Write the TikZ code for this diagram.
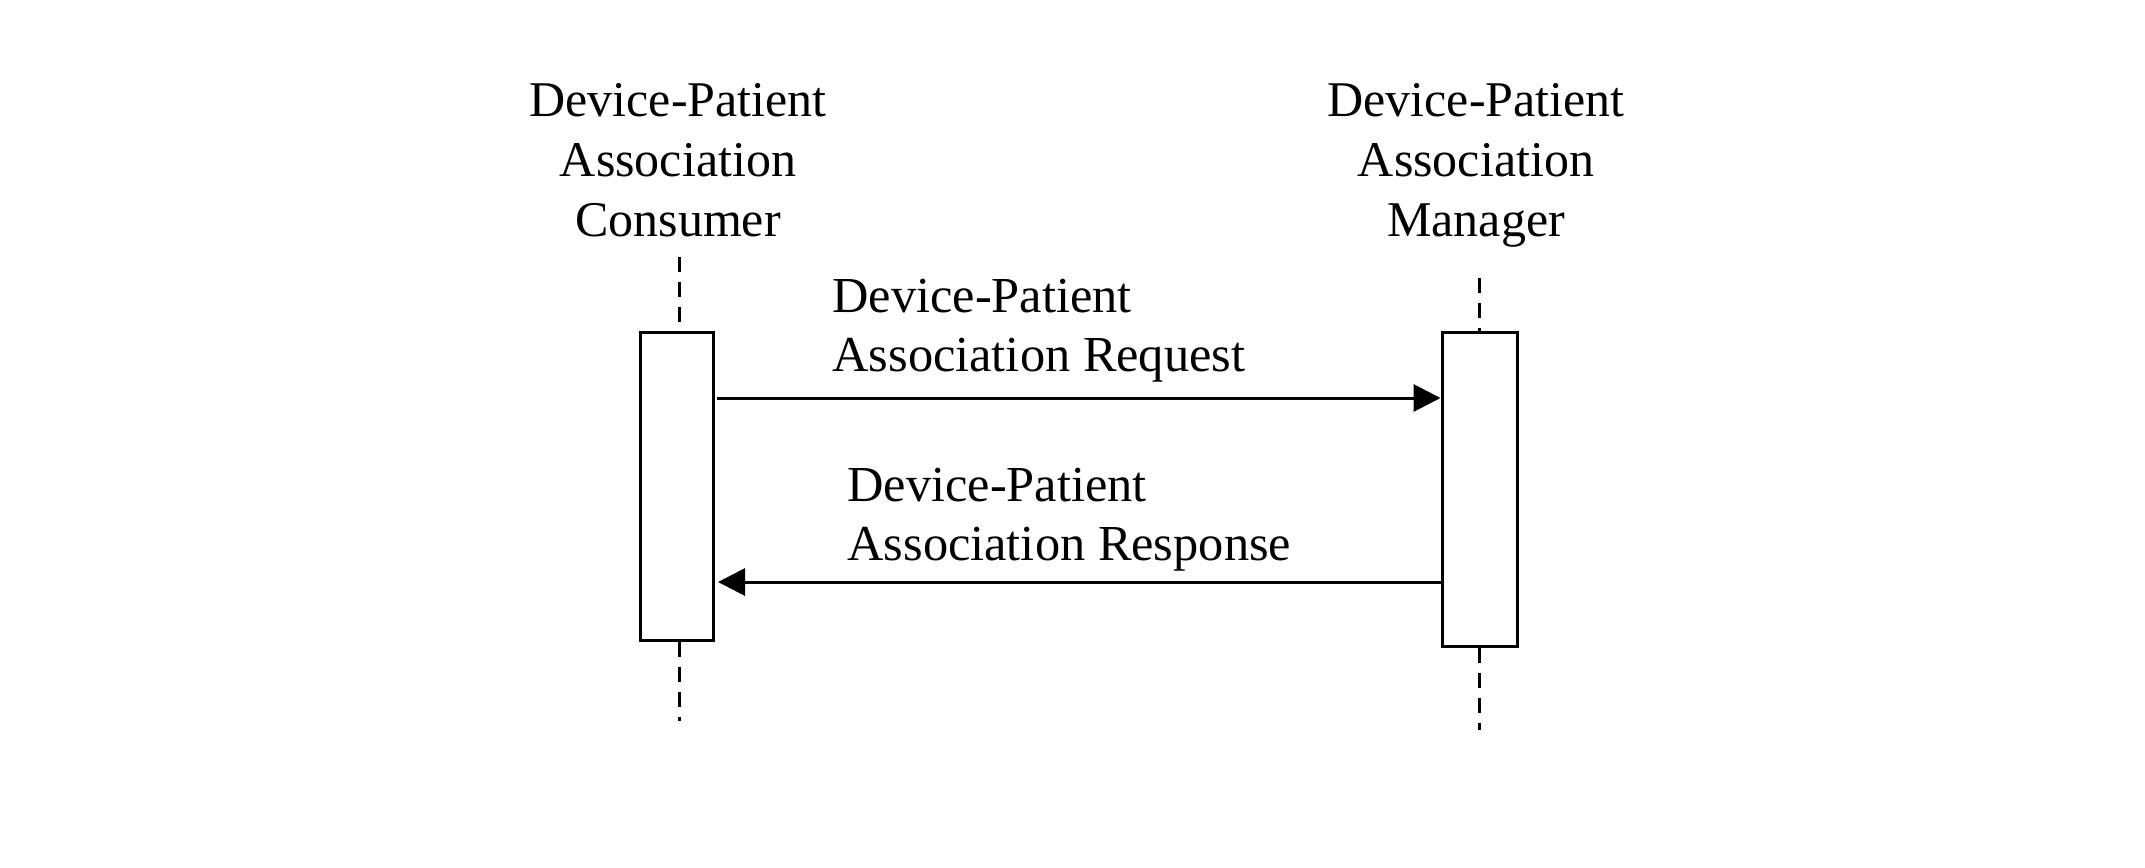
\documentclass[tikz,border=0pt]{standalone}
\usepackage{fontspec}
\setmainfont{Liberation Serif}
\usetikzlibrary{arrows.meta}
\begin{document}
\begin{tikzpicture}[x=0.5pt,y=-0.5pt,
  lbl/.style={font=\fontsize{25}{30}\selectfont, inner sep=0pt, align=center},
  msglbl/.style={font=\fontsize{25.2}{29.5}\selectfont, inner sep=0pt, align=left},
  actbox/.style={draw, line width=1.5pt, fill=white, inner sep=0pt},
  lifeline/.style={line width=1.5pt, dash pattern=on 7.5pt off 5pt},
  msg/.style={line width=1.5pt, -{Triangle[length=13.5pt,width=13.5pt]}}]
\useasboundingbox (0,0) rectangle (2145,867);
% activation boxes
\node[actbox, minimum width=36.5pt, minimum height=154pt] (lbox) at (676.5,486) {};
\node[actbox, minimum width=37.5pt, minimum height=157pt] (rbox) at (1479.5,489) {};
% headers
\node[lbl, anchor=base] (lhead) at (678,236) {Device-Patient\\Association\\Consumer};
\node[lbl, anchor=base] (rhead) at (1476,236) {Device-Patient\\Association\\Manager};
% lifelines
\coordinate (ltop) at (679,257);
\coordinate (lbot) at (679,721);
\coordinate (rtop) at (1479.5,278);
\coordinate (rbot) at (1479.5,730);
\draw[lifeline] (ltop) -- (ltop |- lbox.north);
\draw[lifeline] (ltop |- lbox.south) -- (lbot);
\draw[lifeline] (rtop) -- (rtop |- rbox.north);
\draw[lifeline] (rtop |- rbox.south) -- (rbot);
% messages
\coordinate (m1s) at (717,398);
\coordinate (m2e) at (718,582);
\draw[msg] (m1s) -- (m1s -| rbox.west);
\draw[msg] (m2e -| rbox.west) -- (m2e);
\node[msglbl, anchor=base west] (req) at (832,371) {Device-Patient\\Association Request};
\node[msglbl, anchor=base west] (resp) at (847,560) {Device-Patient\\Association Response};
\end{tikzpicture}
\end{document}
